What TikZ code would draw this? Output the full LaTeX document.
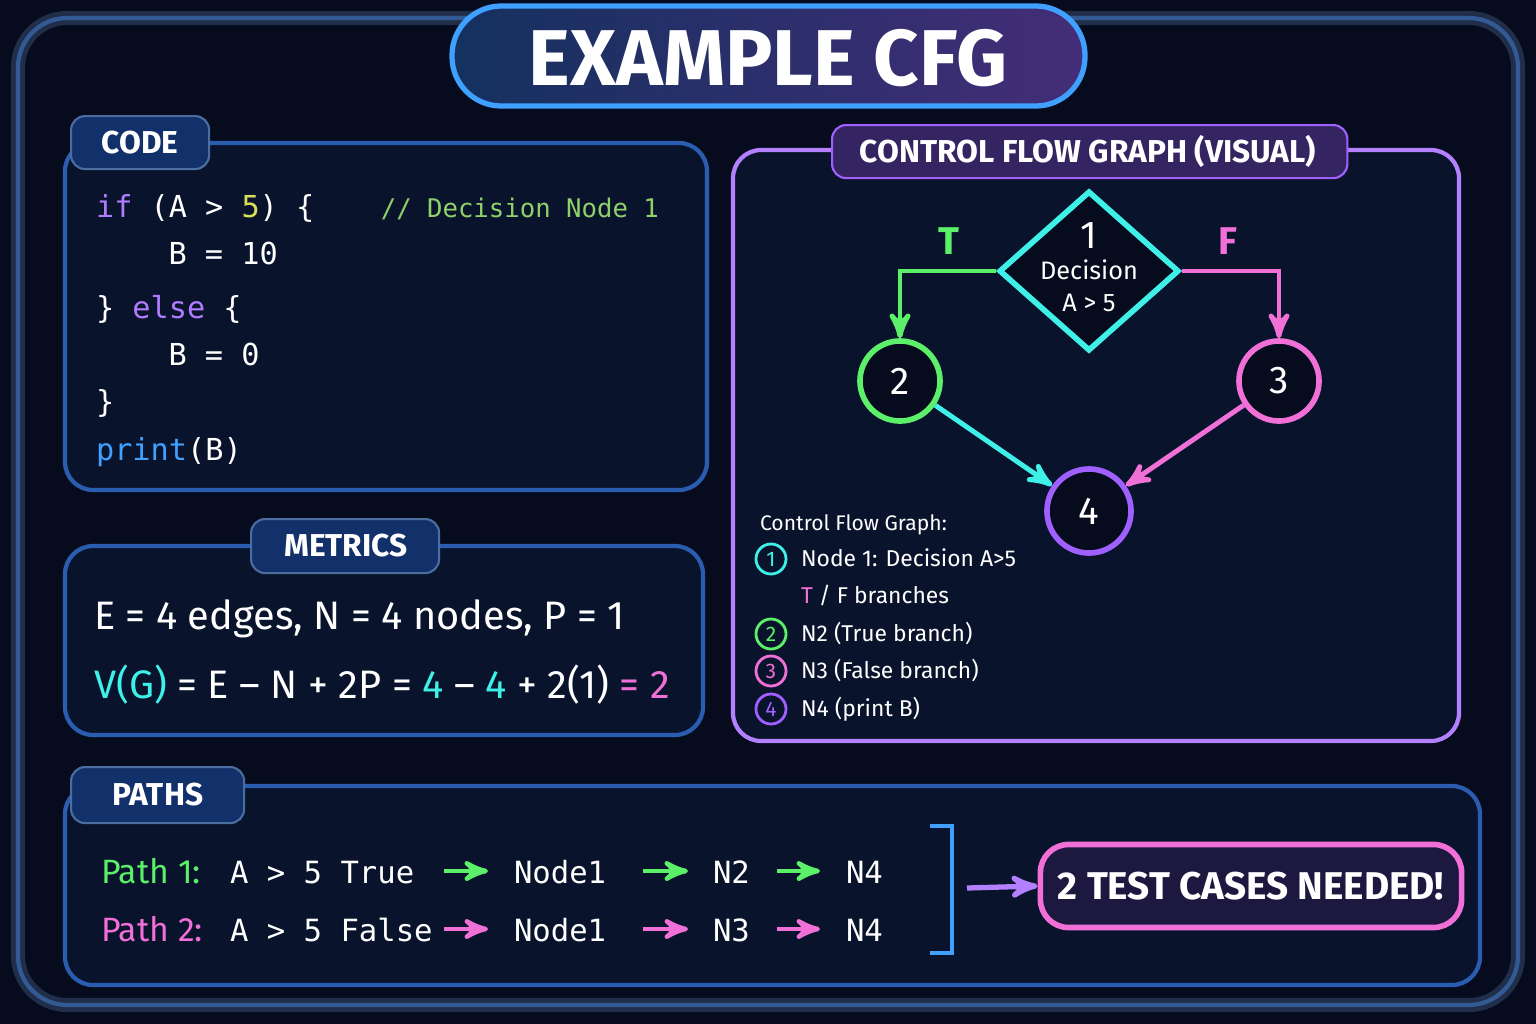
\documentclass[tikz,border=0pt]{standalone}
\usepackage{fontspec}
\setmainfont{Fira Sans}
\setmonofont{DejaVu Sans Mono}
\usetikzlibrary{arrows,positioning,shapes.geometric}
\definecolor{bgc}{HTML}{060B1E}
\definecolor{frame}{HTML}{1E4A8A}
\definecolor{panel}{HTML}{2A5CB0}
\definecolor{tabc}{HTML}{12306A}
\definecolor{cy}{HTML}{3EF0E8}
\definecolor{gr}{HTML}{5CF06A}
\definecolor{pk}{HTML}{F070D8}
\definecolor{pu}{HTML}{A060FF}
\definecolor{kw}{HTML}{B07CFF}
\definecolor{cm}{HTML}{8FD06A}
\definecolor{fn}{HTML}{3FA0FF}
\definecolor{nm}{HTML}{D8E05A}
\newcommand{\csp}[1]{\hspace*{#1em}}
\begin{document}
\begin{tikzpicture}[x=0.01cm,y=-0.01cm,>=stealth',semithick,
  panel/.style={draw=panel,line width=1.2pt,rounded corners=8pt,fill=bgc!70!frame!40!bgc},
  tab/.style={draw=frame!80!white,fill=tabc,rounded corners=4pt,text=white,font=\bfseries\fontsize{9}{10}\selectfont,anchor=north west,inner sep=0pt},
  code/.style={anchor=base west,inner sep=0pt,text=white,font=\ttfamily\fontsize{8.6}{10}\selectfont},
  big/.style={anchor=base west,inner sep=0pt,text=white,font=\fontsize{11.3}{14}\selectfont},
  pth/.style={anchor=base west,inner sep=0pt,text=white,font=\ttfamily\fontsize{8.7}{12}\selectfont},
  state/.style={circle,draw=#1,line width=1.6pt,minimum size=0.8cm,text=white,font=\fontsize{11}{12}\selectfont,fill=bgc},
  leg/.style={anchor=base west,inner sep=0pt,text=white,font=\fontsize{6.5}{8}\selectfont},
  num/.style={circle,draw=#1,thick,text=#1,inner sep=0pt,minimum size=0.3cm,font=\fontsize{6}{7}\selectfont},
  flow/.style={->,line width=1.4pt,draw=#1}]
  \fill[bgc] (0,0) rectangle (1536,1024);
  \useasboundingbox (0,0) rectangle (1536,1024);
  \draw[frame,line width=1.2pt,rounded corners=14pt] (18,18) rectangle (1518,1005);
  \draw[frame!70,line width=4pt,opacity=0.3,rounded corners=14pt] (18,18) rectangle (1518,1005);

  % title
  \shade[left color=frame!60!bgc,right color=pu!40!bgc,rounded corners=14pt] (452,6) rectangle (1085,106);
  \draw[fn,line width=1.5pt,rounded corners=14pt] (452,6) rectangle (1085,106);
  \node (title) at (768,58) {\color{white}\bfseries\fontsize{22.5}{26}\selectfont EXAMPLE CFG};

  % code panel
  \draw[panel] (65,143) rectangle (707,490);
  \node[tab,minimum width=1.38cm,minimum height=0.53cm] (codetab) at (70,115) {};
  \node (codelbl) at (140,143) {\color{white}\bfseries\fontsize{9}{10}\selectfont CODE};
  \node[code] (c1) at (95,217) {{\color{kw}if}\csp{0.6}(A\csp{0.6}>\csp{0.6}{\color{nm}5})\csp{0.6}\{\csp{2.2}{\color{cm}\fontsize{7.3}{10}\selectfont//\csp{0.6}Decision\csp{0.6}Node\csp{0.6}1}};
  \node[code] (c2) at (95,264) {\csp{2.4}B\csp{0.6}=\csp{0.6}10};
  \node[code] (c3) at (95,318) {\}\csp{0.6}{\color{kw}else}\csp{0.6}\{};
  \node[code] (c4) at (95,365) {\csp{2.4}B\csp{0.6}=\csp{0.6}0};
  \node[code] (c5) at (95,412) {\}};
  \node[code] (c6) at (95,460) {{\color{fn}print}(B)};

  % metrics panel
  \draw[panel] (65,546) rectangle (703,735);
  \node[tab,minimum width=1.88cm,minimum height=0.54cm] (mettab) at (250,518) {};
  \node (metlbl) at (346,546) {\color{white}\bfseries\fontsize{9}{10}\selectfont METRICS};
  \node[big] (m1) at (93,629) {E = 4 edges, N = 4 nodes, P = 1};
  \node[big] (m2) at (93,698) {{\color{cy}V(G)} = E -- N + 2P = {\color{cy}4} -- {\color{cy}4} + 2(1) {\color{pk}= 2}};

  % cfg panel
  \draw[panel,draw=pu!80] (733,150) rectangle (1459,741);
  \node[tab,fill=pu!30!bgc,draw=pu,minimum width=5.15cm,minimum height=0.53cm] (cfgtab) at (831,124) {};
  \node (cfglbl) at (1088,151) {\color{white}\bfseries\fontsize{9}{10}\selectfont CONTROL FLOW GRAPH (VISUAL)};

  \node[diamond,draw=cy,line width=1.6pt,minimum width=1.8cm,minimum height=1.6cm,inner sep=0pt,fill=bgc] (n1) at (1089,271) {};
  \node (n1t) at (1089,236) {\color{white}\fontsize{11}{12}\selectfont 1};
  \node[align=center,text=white,font=\fontsize{7.2}{9}\selectfont] (n1l) at (1089,286) {Decision\\A > 5};
  \node[state=gr] (n2) at (900,381) {2};
  \node[state=pk] (n3) at (1279,381) {3};
  \node[state=pu,minimum size=0.84cm] (n4) at (1089,511) {4};

  \draw[flow=gr] (n1.west) -| (n2.north);
  \draw[flow=pk] (n1.east) -| (n3.north);
  \draw[flow=cy] (n2) -- (n4);
  \draw[flow=pk] (n3) -- (n4);
  \node (tl) at (949,241) {\color{gr}\bfseries\fontsize{11}{12}\selectfont T};
  \node (fl) at (1228,241) {\color{pk}\bfseries\fontsize{11}{12}\selectfont F};

  \node[leg,font=\fontsize{6}{8}\selectfont] (lh) at (759,530) {Control Flow Graph:};
  \node[num=cy] (k1) at (771,559) {1};
  \node[leg] (l1) at (800,566) {Node 1: Decision A>5};
  \node[leg] (l1b) at (800,603) {{\color{pk}T} / F branches};
  \node[num=gr] (k2) at (771,634) {2};
  \node[leg] (l2) at (800,641) {N2 (True branch)};
  \node[num=pk] (k3) at (771,671) {3};
  \node[leg] (l3) at (800,678) {N3 (False branch)};
  \node[num=pu] (k4) at (771,709) {4};
  \node[leg] (l4) at (800,716) {N4 (print B)};

  % paths panel
  \draw[panel] (65,786) rectangle (1480,985);
  \node[tab,minimum width=1.73cm,minimum height=0.56cm] (pathtab) at (70,766) {};
  \node (pathlbl) at (158,795) {\color{white}\bfseries\fontsize{9}{10}\selectfont PATHS};

  \node[pth] (p1) at (100,883) {\rmfamily\fontsize{9.6}{12}\selectfont\color{gr}Path 1:};
  \node[pth] (p1a) at (229,883) {A > 5 True};
  \node[pth] (p1b) at (513,883) {Node1};
  \node[pth] (p1c) at (712,883) {N2};
  \node[pth] (p1d) at (845,883) {N4};
  \node[pth] (p2) at (100,941) {\rmfamily\fontsize{9.6}{12}\selectfont\color{pk}Path 2:};
  \node[pth] (p2a) at (229,941) {A > 5 False};
  \node[pth] (p2b) at (513,941) {Node1};
  \node[pth] (p2c) at (712,941) {N3};
  \node[pth] (p2d) at (845,941) {N4};
  \foreach \y/\c in {871/gr,929/pk}{
    \draw[->,\c,line width=1.3pt] (444,\y) -- (488,\y);
    \draw[->,\c,line width=1.3pt] (643,\y) -- (688,\y);
    \draw[->,\c,line width=1.3pt] (777,\y) -- (820,\y);
  }
  \draw[fn,line width=1.4pt] (930,826) -- (952,826) -- (952,953) -- (930,953);
  \node[draw=pk,line width=1.6pt,rounded corners=8pt,fill=pu!15!bgc,minimum width=4.21cm,minimum height=0.83cm,text=white,font=\bfseries\fontsize{11}{12}\selectfont] (tests) at (1251,886) {2 TEST CASES NEEDED!};
  \coordinate (brk) at (967,888);
  \draw[->,pu!80!white,line width=1.5pt] (brk) -- (tests.west);
\end{tikzpicture}
\end{document}
